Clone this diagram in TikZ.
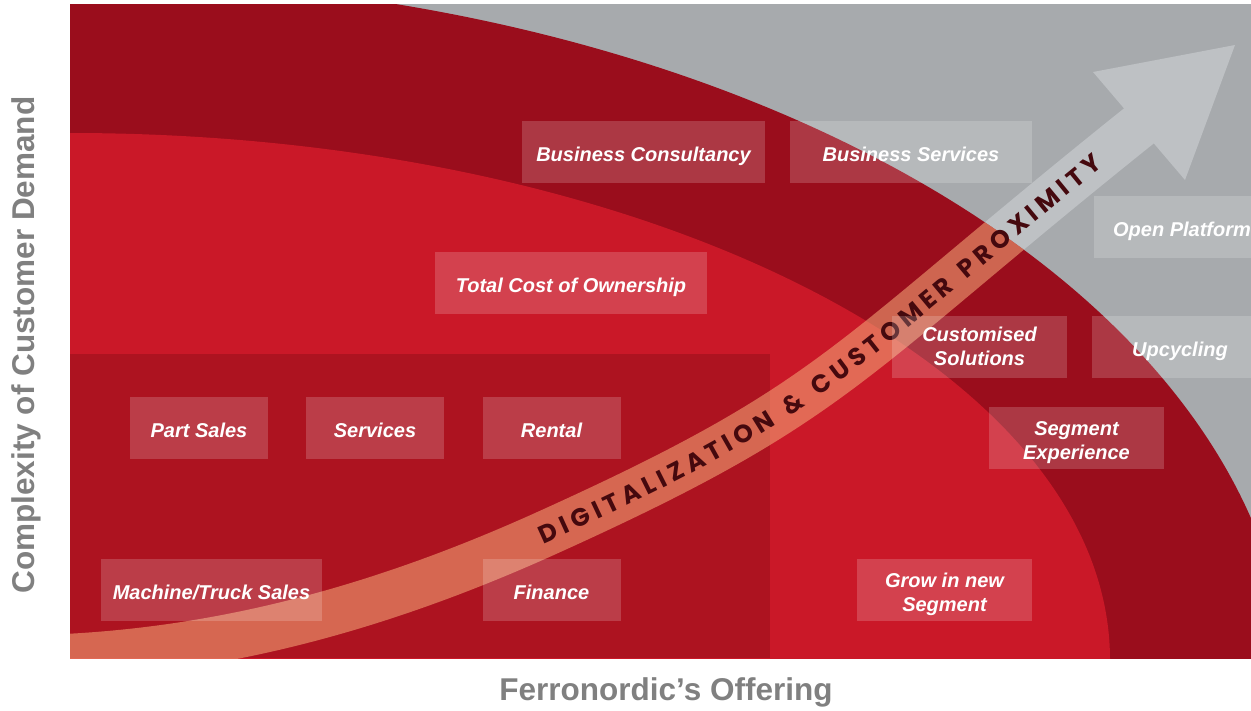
\documentclass[tikz,border=0pt]{standalone}
\usepackage{fontspec}
\setmainfont{Liberation Sans}
\newfontfamily\bandfont{Poppins}
\usetikzlibrary{decorations.text}

\definecolor{panelgray}{HTML}{A7AAAD}
\definecolor{outerred}{HTML}{9A0D1C}
\definecolor{innerred}{HTML}{CA1828}
\definecolor{corered}{HTML}{AD1320}
\definecolor{bandsalmon}{RGB}{242,160,115}
\definecolor{bandgray}{HTML}{BEC1C4}
\definecolor{bandtext}{HTML}{45090E}
\definecolor{axisgray}{HTML}{808080}

\begin{document}
\begin{tikzpicture}[
    x=1pt, y=-1pt,
    offer/.style={fill=white, fill opacity=0.18, text opacity=1, text=white, minimum height=62pt, inner sep=0pt, align=center, font=\fontsize{20}{24}\selectfont\bfseries\itshape},
    oneline/.style={offer, text height=19.5pt, text depth=0pt},
    twoline/.style={offer, text height=42pt, text depth=0pt},
    axislabel/.style={text=axisgray, font=\fontsize{31.5}{32}\selectfont\bfseries}
]
    \useasboundingbox (0,0) rectangle (1251,710);

    \begin{scope}
        \clip (70,4) rectangle (1251,658);
        \fill[panelgray] (70,4) rectangle (1251,658);

        % growth arrow, grey where it leaves the red
        \draw[bandgray, line width=46pt] (40,658) .. controls (210,653) and (370,612) .. (540,536)
            .. controls (840,401) and (840,365) .. (1140,125);
        \fill[bandgray] (1093,72) -- (1235,45) -- (1185,180) -- cycle;

        % demand zones
        \fill[outerred] (70,700) ellipse [x radius=1220, y radius=722];
        \fill[innerred] (70,660) ellipse [x radius=1040, y radius=527];
        \fill[corered] (70,354) rectangle (770,658);

        % arrow over the red zones
        \begin{scope}
            \clip (70,700) ellipse [x radius=1220, y radius=722];
            \draw[bandsalmon, opacity=0.6, line width=46pt] (40,658) .. controls (210,653) and (370,612) .. (540,536)
                .. controls (840,401) and (840,365) .. (1140,125);
        \end{scope}
        \path[decorate, decoration={text along path, text align=fit to path, raise=-9pt,
            text={|\bandfont\bfseries\fontsize{25}{25}\selectfont\color{bandtext}|DIGITALIZATION {\&} CUSTOMER PROXIMITY}}]
            (540,536) .. controls (825,407.75) and (839.25,368.85) .. (1097.2,159.5);

        % offerings
        \node[oneline, minimum width=243pt] (consult) at (643.5,152) {Business Consultancy};
        \node[oneline, minimum width=242pt] (bizserv) at (911,152) {Business Services};
        \node[oneline, minimum width=176pt] (platform) at (1182,226.5) {Open Platform};
        \node[oneline, minimum width=272pt] (tco) at (571,283) {Total Cost of Ownership};
        \node[offer, minimum width=175pt] (custom) at (979.5,346.5) {Customised\\Solutions};
        \node[oneline, minimum width=176pt] (upcycle) at (1180,346.5) {Upcycling};
        \node[oneline, minimum width=138pt] (parts) at (199,427.5) {Part Sales};
        \node[oneline, minimum width=138pt] (services) at (375,427.5) {Services};
        \node[oneline, minimum width=138pt] (rental) at (551.5,427.5) {Rental};
        \node[twoline, minimum width=175pt] (segexp) at (1076.5,438) {Segment\\Experience};
        \node[oneline, minimum width=221pt] (machines) at (211.5,590) {Machine/Truck Sales};
        \node[oneline, minimum width=138pt] (finance) at (551.5,590) {Finance};
        \node[twoline, minimum width=175pt] (newseg) at (944.5,590) {Grow in new\\Segment};
    \end{scope}

    % axes
    \node[axislabel, rotate=90] (ylabel) at (26,345) {Complexity of Customer Demand};
    \node[axislabel] (xlabel) at (666,692) {Ferronordic’s Offering};
\end{tikzpicture}
\end{document}
